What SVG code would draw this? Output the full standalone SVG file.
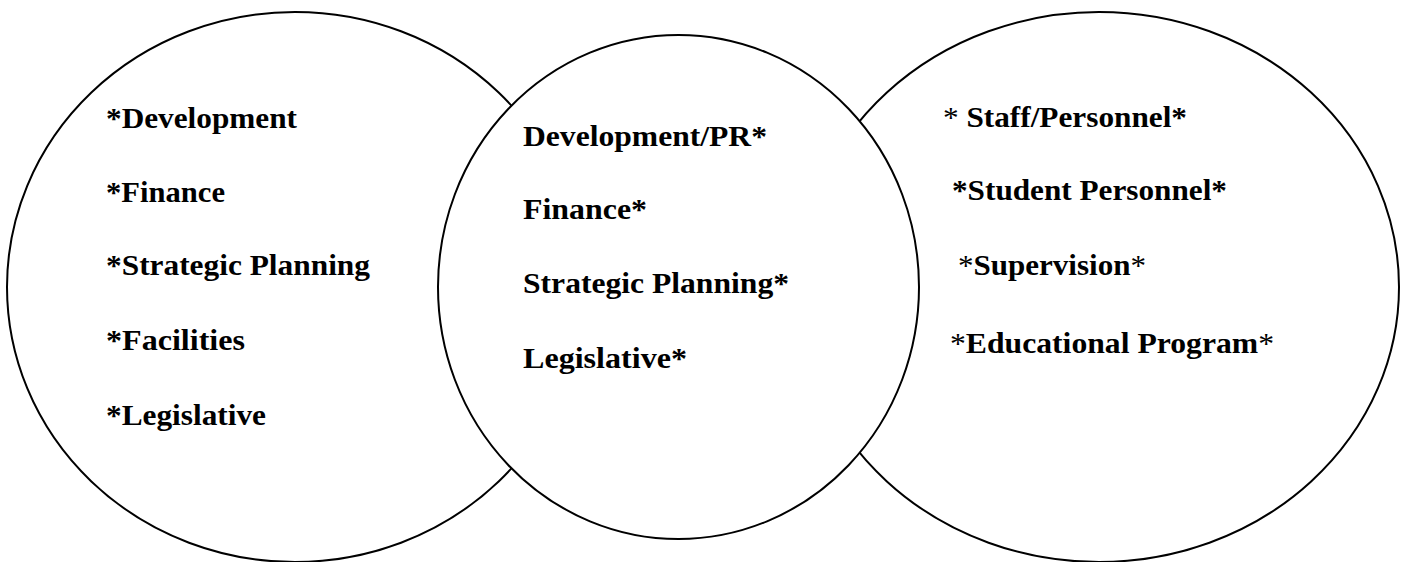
<svg xmlns="http://www.w3.org/2000/svg" width="1401" height="562" viewBox="0 0 1401 562">
  <style>
    .ring { fill: #ffffff; stroke: #000000; stroke-width: 2; }
    .lbl { font-family: "Liberation Serif", "Times New Roman", serif; font-size: 29px; font-weight: 700; fill: #000000; }
    .thin { font-weight: 400; }
  </style>
  <rect x="0" y="0" width="1401" height="562" fill="#ffffff"/>

  <!-- outer circles first, the centre circle overlaps both -->
  <g id="left-circle">
    <ellipse class="ring" cx="295" cy="287" rx="288" ry="275"/>
    <text class="lbl" x="106" y="128" textLength="191" lengthAdjust="spacingAndGlyphs">*Development</text>
    <text class="lbl" x="106" y="202" textLength="119" lengthAdjust="spacingAndGlyphs">*Finance</text>
    <text class="lbl" x="106" y="275" textLength="264" lengthAdjust="spacingAndGlyphs">*Strategic Planning</text>
    <text class="lbl" x="106" y="350" textLength="139" lengthAdjust="spacingAndGlyphs">*Facilities</text>
    <text class="lbl" x="106" y="425" textLength="160" lengthAdjust="spacingAndGlyphs">*Legislative</text>
  </g>

  <g id="right-circle">
    <ellipse class="ring" cx="1099" cy="287" rx="300" ry="275"/>
    <text class="lbl" x="943" y="127" textLength="244" lengthAdjust="spacingAndGlyphs"><tspan class="thin">* </tspan>Staff/Personnel*</text>
    <text class="lbl" x="952" y="200" textLength="275" lengthAdjust="spacingAndGlyphs">*Student Personnel*</text>
    <text class="lbl" x="958" y="275" textLength="188" lengthAdjust="spacingAndGlyphs"><tspan class="thin">*</tspan>Supervision<tspan class="thin">*</tspan></text>
    <text class="lbl" x="950" y="353" textLength="324" lengthAdjust="spacingAndGlyphs"><tspan class="thin">*</tspan>Educational Program<tspan class="thin">*</tspan></text>
  </g>

  <g id="centre-circle">
    <ellipse class="ring" cx="678.5" cy="287" rx="240.5" ry="252"/>
    <text class="lbl" x="523" y="146" textLength="244" lengthAdjust="spacingAndGlyphs">Development/PR*</text>
    <text class="lbl" x="523" y="219" textLength="124" lengthAdjust="spacingAndGlyphs">Finance*</text>
    <text class="lbl" x="523" y="293" textLength="266" lengthAdjust="spacingAndGlyphs">Strategic Planning*</text>
    <text class="lbl" x="523" y="368" textLength="164" lengthAdjust="spacingAndGlyphs">Legislative*</text>
  </g>

  <g id="connectors"></g>
</svg>
